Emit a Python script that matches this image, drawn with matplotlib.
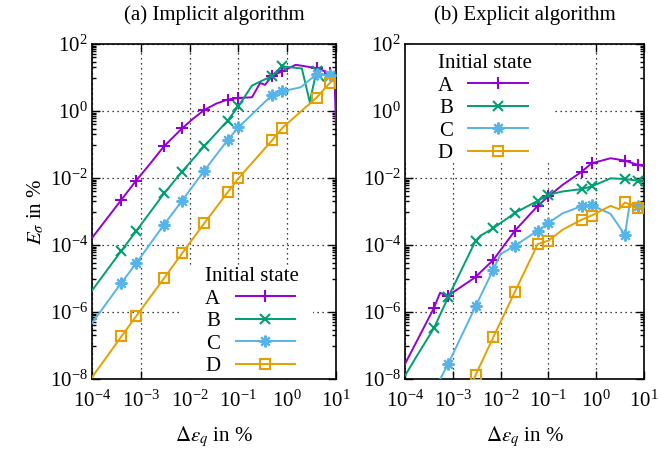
"""Stress error E_sigma vs. strain increment, implicit vs. explicit integration."""
import matplotlib

matplotlib.use("Agg")
import matplotlib.pyplot as plt
import numpy as np
from matplotlib.lines import Line2D
from matplotlib.patches import Rectangle
from matplotlib.ticker import FixedLocator, NullFormatter

plt.rcParams["font.family"] = ["Liberation Serif", "DejaVu Serif"]
plt.rcParams["mathtext.fontset"] = "stix"

STATES = ["A", "B", "C", "D"]
COLORS = {"A": "#9400d3", "B": "#009e73", "C": "#56b4e9", "D": "#e69f00"}
MARKERS = {"A": "+", "B": "x", "C": (8, 2, 0), "D": "s"}
MSIZE = {"A": 9, "B": 7.5, "C": 8.5, "D": 7}

# strain increments (in %) where point symbols are drawn
mark_x = [4e-4, 8e-4, 3e-3, 7e-3, 2e-2, 6e-2, 0.1, 0.5, 0.8, 4, 7.5]

# (a) implicit algorithm, x in %, y = log10(E_sigma in %)
imp_a_x = [1e-4, 2e-4, 4e-4, 8e-4, 1.5e-3, 3e-3, 7e-3, 1.2e-2, 2e-2, 3.5e-2, 6e-2, 0.1,
           0.19, 0.28, 0.35, 0.5, 0.8, 1.5, 4, 7.5, 9.3, 9.9]
imp_a_y = [-3.79, -3.22, -2.65, -2.08, -1.6, -1.05, -0.52, -0.22, 0.03, 0.22, 0.34, 0.39,
           0.41, 0.84, 0.78, 1.05, 1.19, 1.38, 1.28, 1.13, 1.15, -0.3]
imp_b_x = [1e-4, 4e-4, 8e-4, 3e-3, 7e-3, 2e-2, 6e-2, 0.1, 0.19, 0.3, 0.5, 0.8,
           2.0, 2.9, 4, 5.5, 7.5, 10]
imp_b_y = [-5.36, -4.17, -3.59, -2.46, -1.81, -1.05, -0.29, 0.14, 0.76, 0.90, 1.05, 1.33,
           1.27, 0.27, 1.2, 0.9, 1.05, 1.1]
imp_c_x = [1e-4, 4e-4, 8e-4, 3e-3, 7e-3, 2e-2, 6e-2, 0.1, 0.5, 0.8, 1.9, 4, 7.5, 10]
imp_c_y = [-6.33, -5.13, -4.55, -3.39, -2.68, -1.78, -0.87, -0.49, 0.49, 0.59, 0.71,
           1.10, 1.07, 1.05]
imp_d_x = [1e-4, 4e-4, 8e-4, 3e-3, 7e-3, 2e-2, 6e-2, 0.1, 0.5, 0.8, 4, 7.5, 9.5]
imp_d_y = [-7.95, -6.73, -6.13, -4.99, -4.25, -3.35, -2.43, -2.01, -0.86, -0.50, 0.40,
           0.84, 0.96]

# (b) explicit algorithm
exp_a_x = [1e-4, 4e-4, 5.4e-4, 8e-4, 2.7e-3, 3e-3, 7e-3, 2e-2, 6e-2, 0.1, 0.2, 0.5,
           0.8, 2, 4, 7.5, 10]
exp_a_y = [-7.55, -5.89, -5.43, -5.51, -5.0, -4.95, -4.45, -3.57, -2.83, -2.55, -2.2,
           -1.81, -1.56, -1.41, -1.48, -1.61, -1.65]
exp_b_x = [1e-4, 1.7e-4, 4e-4, 8e-4, 3e-3, 3.8e-3, 7e-3, 2e-2, 6e-2, 0.1, 0.2, 0.5,
           0.8, 2, 4, 7.5, 10]
exp_b_y = [-7.9, -7.35, -6.49, -5.56, -3.87, -3.72, -3.50, -3.04, -2.68, -2.50, -2.4,
           -2.33, -2.25, -2.01, -2.03, -2.08, -2.1]
exp_c_x = [5e-4, 8e-4, 3e-3, 7e-3, 1e-2, 2e-2, 6e-2, 0.1, 0.2, 0.5, 0.8, 2, 4, 5,
           7.5, 10]
exp_c_y = [-8.1, -7.55, -5.83, -4.74, -4.27, -4.02, -3.57, -3.34, -3.05, -2.84, -2.81,
           -3.07, -3.70, -2.78, -2.83, -2.85]
exp_d_x = [2.7e-3, 3e-3, 7e-3, 2e-2, 6e-2, 0.1, 0.2, 0.5, 0.8, 2, 3, 4, 7.5, 10]
exp_d_y = [-8.05, -7.88, -6.76, -5.39, -3.97, -3.87, -3.54, -3.24, -3.12, -2.83, -2.93,
           -2.73, -2.90, -2.85]

panels = [
    ("(a) Implicit algorithm",
     {"A": (imp_a_x, imp_a_y), "B": (imp_b_x, imp_b_y),
      "C": (imp_c_x, imp_c_y), "D": (imp_d_x, imp_d_y)}),
    ("(b) Explicit algorithm",
     {"A": (exp_a_x, exp_a_y), "B": (exp_b_x, exp_b_y),
      "C": (exp_c_x, exp_c_y), "D": (exp_d_x, exp_d_y)}),
]

FS = 15
fig = plt.figure(figsize=(6.58, 4.51), dpi=100)
ax_pos = [[0.1398, 0.1596, 0.3708, 0.7428], [0.6155, 0.1596, 0.3632, 0.7428]]
# white key box (hides the grid), in axes fractions
key_box = [(0.369, 0.0, 0.537, 0.34), (0.0, 0.654, 0.628, 0.346)]
key_anchor = [(0.463, 0.334), (0.137, 0.970)]

ymin_ticks = [10.0**e * m for e in range(-10, 3, 2) for m in np.arange(0.1, 1.0, 0.1)]

for i, (title, series) in enumerate(panels):
    ax = fig.add_axes(ax_pos[i])
    ax.set_xscale("log")
    ax.set_yscale("log")
    ax.set_xlim(1e-4, 10)
    ax.set_ylim(1e-8, 1e2)
    ax.set_axisbelow(True)

    handles = []
    for s in STATES:
        x = np.array(series[s][0])
        y = 10.0 ** np.array(series[s][1])
        idx = [j for j, v in enumerate(x) if np.any(np.isclose(v, mark_x, rtol=1e-6))]
        ax.plot(x, y, color=COLORS[s], lw=1.4, marker=MARKERS[s], markevery=idx,
                ms=MSIZE[s], mew=1.5, fillstyle="none", zorder=3)
        handles.append(Line2D([], [], color=COLORS[s], lw=1.4, marker=MARKERS[s],
                              ms=MSIZE[s], mew=1.5, fillstyle="none"))

    ax.add_patch(Rectangle(key_box[i][:2], key_box[i][2], key_box[i][3],
                           transform=ax.transAxes, facecolor="white",
                           edgecolor="none", zorder=1))
    ax.legend(handles, STATES, title="Initial state", markerfirst=False, frameon=False,
              alignment="left", loc="upper left", bbox_to_anchor=key_anchor[i],
              fontsize=FS, title_fontsize=FS, handlelength=2.85, handletextpad=0.75,
              labelspacing=0.14, borderpad=0, borderaxespad=0)

    ax.set_xticks([1e-4, 1e-3, 1e-2, 1e-1, 1, 10])
    ax.set_yticks([1e-8, 1e-6, 1e-4, 1e-2, 1, 1e2])
    ax.yaxis.set_minor_locator(FixedLocator(ymin_ticks))
    ax.yaxis.set_minor_formatter(NullFormatter())
    ax.tick_params(which="both", direction="in", top=True, right=True,
                   labelsize=FS, width=1)
    ax.tick_params(which="major", length=6)
    ax.tick_params(which="minor", length=3)
    ax.tick_params(axis="x", which="major", pad=8)
    ax.tick_params(axis="y", which="major", pad=3)
    ax.grid(True, which="major", color="black", lw=0.9, ls=(0, (1, 3)))
    for sp in ax.spines.values():
        sp.set_linewidth(1.2)

    ax.set_title(title, fontsize=FS, pad=17)
    ax.set_xlabel(r"$\Delta\varepsilon_q$ in %", fontsize=FS, labelpad=9)
    if i == 0:
        ax.set_ylabel(r"$E_\sigma$ in %", fontsize=FS, labelpad=2)

fig.savefig("out.png", dpi=100)
